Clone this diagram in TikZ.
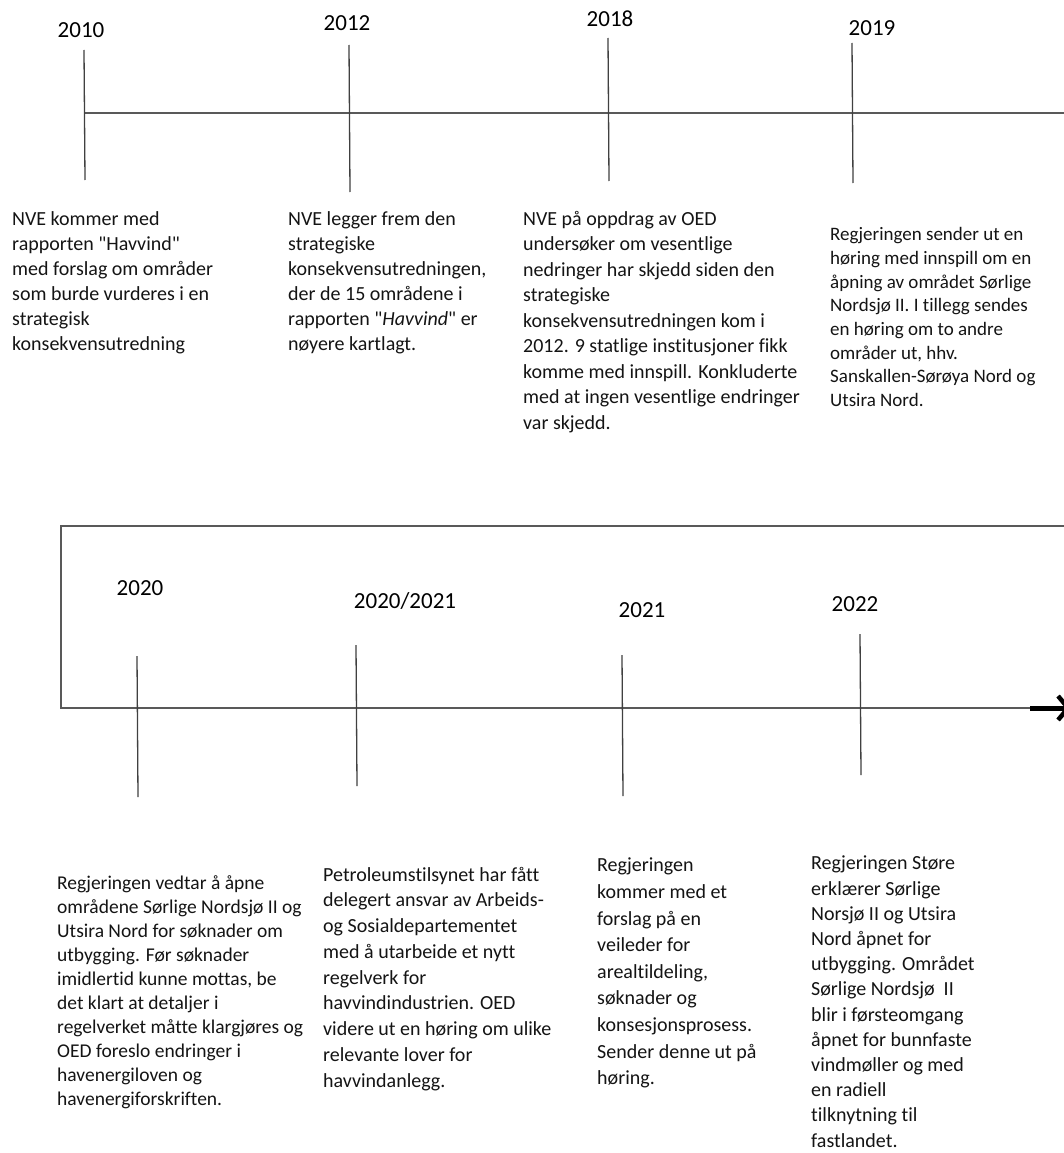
\documentclass[tikz,border=0pt]{standalone}
\usepackage{fontspec}
\setmainfont{Carlito}[Ligatures=CommonOff]
\usetikzlibrary{arrows.meta}
\begin{document}
\begin{tikzpicture}[x=1pt,y=-1pt,
  axis/.style={line width=1.7pt,black!65},
  tick/.style={line width=1.3pt,black!75},
  yearlbl/.style={inner sep=0pt,font=\fontsize{23}{28}\selectfont,text=black},
  desc/.style={inner sep=0pt,anchor=north west,align=left,text=black!92,font=\fontsize{20}{25}\selectfont},
]
\useasboundingbox (0,0) rectangle (1064,1153);
\fill[white] (0,0) rectangle (1064,1153);

% ---- top timeline ----
\coordinate (t0) at (85,113);
\coordinate (t1) at (1064,113);
\draw[axis] (t0) -- (t1);

\node[yearlbl] (y2010) at (81,30) {2010};
\node[yearlbl] (y2012) at (347,23) {2012};
\node[yearlbl] (y2018) at (610,19) {2018};
\node[yearlbl] (y2019) at (872,28) {2019};

\coordinate (a1) at (84,50);   \coordinate (b1) at (85,180);
\coordinate (a2) at (349,45);  \coordinate (b2) at (350,192);
\coordinate (a3) at (608,38);  \coordinate (b3) at (609,181);
\coordinate (a4) at (852,43);  \coordinate (b4) at (853,183);
\draw[tick] (a1) -- (b1);
\draw[tick] (a2) -- (b2);
\draw[tick] (a3) -- (b3);
\draw[tick] (a4) -- (b4);

\node[desc] (d2010) at (12,208) {\strut NVE kommer med\\
rapporten \textquotedbl Havvind\textquotedbl\\
med forslag om områder\\
som burde vurderes i en\\
strategisk\\
konsekvensutredning};

\node[desc] (d2012) at (288,208) {\strut NVE legger frem den\\
strategiske\\
konsekvensutredningen,\\
der de 15 områdene i\\
rapporten \textquotedbl\textit{Havvind}\textquotedbl\ er\\
nøyere kartlagt.};

\node[desc,font=\fontsize{20}{25.5}\selectfont] (d2018) at (523,207) {\strut NVE på oppdrag av OED\\
undersøker om vesentlige\\
nedringer har skjedd siden den\\
strategiske\\
konsekvensutredningen kom i\\
2012. 9 statlige institusjoner fikk\\
komme med innspill. Konkluderte\\
med at ingen vesentlige endringer\\
var skjedd.};

\node[desc,font=\fontsize{19}{23.7}\selectfont] (d2019) at (830,224) {\strut Regjeringen sender ut en\\
høring med innspill om en\\
åpning av området Sørlige\\
Nordsjø II. I tillegg sendes\\
en høring om to andre\\
områder ut, hhv.\\
Sanskallen-Sørøya Nord og\\
Utsira Nord.};

% ---- bottom timeline ----
\coordinate (r0) at (1064,526);
\coordinate (r1) at (61,526);
\coordinate (r2) at (61,708);
\coordinate (r3) at (1030,708);
\coordinate (r4) at (1071,708);
\draw[axis,line width=1.5pt] (r0) -- (r1) -- (r2) -- (r3);
\draw[line width=5pt,black,-{Straight Barb[length=10pt,width=24pt,line width=4.5pt]}] (r3) -- (r4);

\node[yearlbl] (y2020) at (140,588) {2020};
\node[yearlbl] (y2021a) at (405,601) {2020/2021};
\node[yearlbl] (y2021) at (642,610) {2021};
\node[yearlbl] (y2022) at (855,604) {2022};

\coordinate (a5) at (137,656); \coordinate (b5) at (138,797);
\coordinate (a6) at (356,645); \coordinate (b6) at (357,786);
\coordinate (a7) at (622,655); \coordinate (b7) at (623,796);
\coordinate (a8) at (860,634); \coordinate (b8) at (861,775);
\draw[tick] (a5) -- (b5);
\draw[tick] (a6) -- (b6);
\draw[tick] (a7) -- (b7);
\draw[tick] (a8) -- (b8);

\node[desc,font=\fontsize{19.5}{23.9}\selectfont] (d2020) at (57,873) {\strut Regjeringen vedtar å åpne\\
områdene Sørlige Nordsjø II og\\
Utsira Nord for søknader om\\
utbygging. Før søknader\\
imidlertid kunne mottas, be\\
det klart at detaljer i\\
regelverket måtte klargjøres og\\
OED foreslo endringer i\\
havenergiloven og\\
havenergiforskriften.};

\node[desc,font=\fontsize{20}{25.75}\selectfont] (d2021a) at (323,863) {\strut Petroleumstilsynet har fått\\
delegert ansvar av Arbeids-\\
og Sosialdepartementet\\
med å utarbeide et nytt\\
regelverk for\\
havvindindustrien. OED\\
videre ut en høring om ulike\\
relevante lover for\\
havvindanlegg.};

\node[desc,font=\fontsize{20}{26.6}\selectfont] (d2021) at (597,853) {\strut Regjeringen\\
kommer med et\\
forslag på en\\
veileder for\\
arealtildeling,\\
søknader og\\
konsesjonsprosess.\\
Sender denne ut på\\
høring.};

\node[desc,font=\fontsize{20}{25.2}\selectfont] (d2022) at (811,852) {\strut Regjeringen Støre\\
erklærer Sørlige\\
Norsjø II og Utsira\\
Nord åpnet for\\
utbygging. Området\\
Sørlige Nordsjø\ \ II\\
blir i førsteomgang\\
åpnet for bunnfaste\\
vindmøller og med\\
en radiell\\
tilknytning til\\
fastlandet.};
\end{tikzpicture}
\end{document}
